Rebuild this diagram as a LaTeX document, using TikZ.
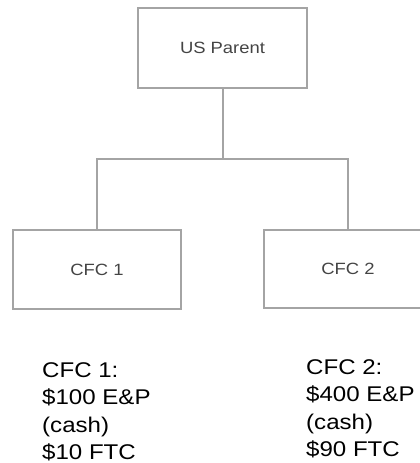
\documentclass[tikz,border=0pt]{standalone}
\usepackage{fontspec}
\setmainfont{Liberation Sans}
\newfontfamily\stretchfont[FakeStretch=1.13]{Liberation Sans}
\definecolor{boxline}{HTML}{A4A4A4}
\definecolor{boxtext}{HTML}{444444}
\begin{document}
\begin{tikzpicture}[x=1pt,y=-1pt,
  entity/.style={draw=boxline, line width=2pt, fill=white, inner sep=0pt,
    font={\stretchfont\fontsize{16.3}{18}\selectfont}, text=boxtext},
  conn/.style={draw=boxline, line width=2pt},
  note/.style={font={\stretchfont\fontsize{21.3}{27.3}\selectfont}, text=black,
    align=left, inner sep=0pt, anchor=north west}]
\useasboundingbox (0,0) rectangle (420,463);
\clip (0,0) rectangle (420,463);
\fill[white] (0,0) rectangle (420,463);
\node[entity, minimum width=169pt, minimum height=80pt] (P) at (222.5,48) {US Parent};
\node[entity, minimum width=168pt, minimum height=79pt] (C1) at (97,269.5) {CFC 1};
\node[entity, minimum width=168pt, minimum height=78pt] (C2) at (348,269) {CFC 2};
\coordinate (J) at (222.5,159);
\draw[conn] (P.south) -- (J);
\draw[conn] (C1.north) |- (J) -| (C2.north);
\node[note] (N1) at (42,362.5) {CFC 1:\\\$100 E\&P\\(cash)\\\$10 FTC};
\node[note] (N2) at (306,359.5) {CFC 2:\\\$400 E\&P\\(cash)\\\$90 FTC};
\end{tikzpicture}
\end{document}
